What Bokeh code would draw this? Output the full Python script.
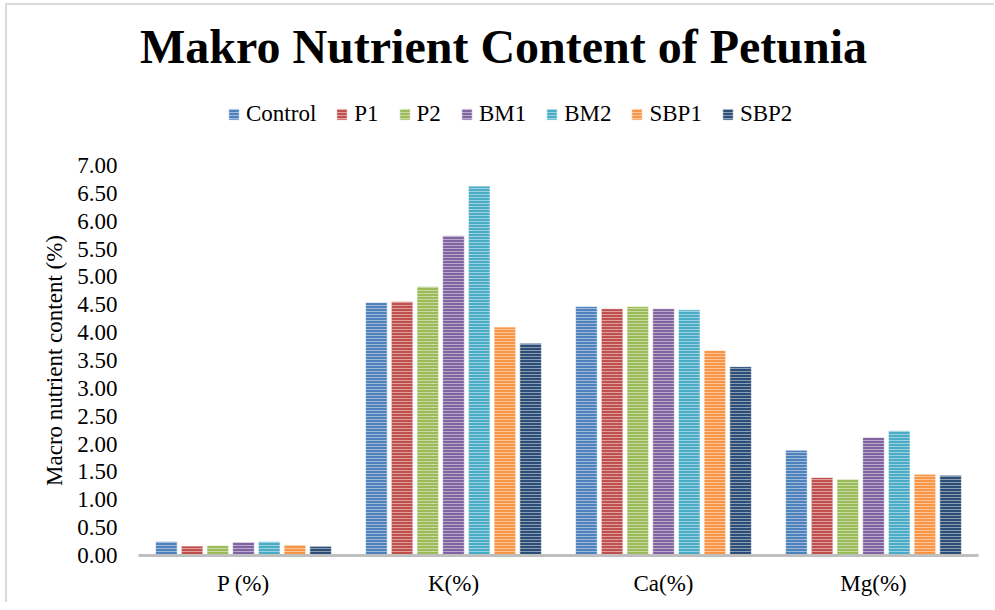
from bokeh.plotting import figure
from bokeh.layouts import column
from bokeh.models import (FactorRange, Range1d, Legend, LegendItem, FixedTicker,
                          NumeralTickFormatter, ColumnDataSource, Label)
from bokeh.transform import dodge
from bokeh.embed import file_html
from bokeh.resources import INLINE

categories = ["P (%)", "K(%)", "Ca(%)", "Mg(%)"]
series = ["Control", "P1", "P2", "BM1", "BM2", "SBP1", "SBP2"]
control = [0.25, 4.54, 4.47, 1.89]
p1 = [0.17, 4.56, 4.43, 1.40]
p2 = [0.18, 4.83, 4.47, 1.37]
bm1 = [0.24, 5.74, 4.43, 2.12]
bm2 = [0.25, 6.63, 4.41, 2.24]
sbp1 = [0.19, 4.10, 3.68, 1.46]
sbp2 = [0.165, 3.81, 3.39, 1.44]
values = [control, p1, p2, bm1, bm2, sbp1, sbp2]
colors = ["#4F81BD", "#C0504D", "#9BBB59", "#8064A2", "#4BACC6", "#F79646", "#2C4D75"]
y_ticks = [0, 0.5, 1, 1.5, 2, 2.5, 3, 3.5, 4, 4.5, 5, 5.5, 6, 6.5, 7]
title_text = "Makro Nutrient Content of Petunia"

FONT = "Liberation Serif"
W = 987
TOP_H = 145
MAIN_H = 452

bar_style = dict(line_color="white", line_width=1, line_alpha=0.6,
                 hatch_pattern="horizontal_line", hatch_color="white",
                 hatch_alpha=0.45, hatch_scale=3, hatch_weight=1)

# ---- header figure: title + legend ----
top = figure(width=W, height=TOP_H, x_range=Range1d(0, 1), y_range=Range1d(0, 1),
             output_backend="svg", toolbar_location=None,
             x_axis_type=None, y_axis_type=None, min_border=0)
top.xgrid.visible = False
top.ygrid.visible = False
top.outline_line_color = None

top.add_layout(Label(x=365, y=104, x_units="screen", y_units="screen",
                     text=title_text, text_align="center",
                     text_baseline="alphabetic", text_font=FONT,
                     text_font_size="48px", text_font_style="bold",
                     text_color="black"))

# ---- main chart ----
p = figure(x_range=FactorRange(factors=categories, range_padding=0),
           y_range=Range1d(0, 7),
           width=W, height=MAIN_H, output_backend="svg", toolbar_location=None,
           min_border_left=131, min_border_right=16, min_border_top=15,
           min_border_bottom=47)

data = {"cat": categories}
for name, vals in zip(series, values):
    data[name] = vals
src = ColumnDataSource(data)

n = len(series)
step = 0.1224
items = []
for i, (name, col) in enumerate(zip(series, colors)):
    off = (i - (n - 1) / 2) * step
    p.vbar(x=dodge("cat", off, range=p.x_range), top=name, width=0.103,
           source=src, fill_color=col, **bar_style)
    # swatch-only renderer for the header legend (lies outside the header's view)
    dummy = top.vbar(x=[-5], top=[-5], width=0.01, bottom=-6, fill_color=col, **bar_style)
    items.append(LegendItem(label=name, renderers=[dummy]))

legend = Legend(items=items, orientation="horizontal", location=(89, 23),
                label_text_font=FONT, label_text_font_size="23px",
                label_text_color="black",
                glyph_width=13, glyph_height=14, label_standoff=6, spacing=19,
                padding=0, margin=0, border_line_alpha=0,
                background_fill_alpha=0)
top.add_layout(legend)

p.xgrid.visible = False
p.ygrid.visible = False
p.outline_line_color = None

p.xaxis.axis_line_color = "#BFBFBF"
p.xaxis.axis_line_width = 3
p.xaxis.major_tick_line_color = None
p.xaxis.minor_tick_line_color = None
p.xaxis.major_label_text_font = FONT
p.xaxis.major_label_text_font_size = "23px"
p.xaxis.major_label_text_color = "black"
p.xaxis.major_label_standoff = 9

p.yaxis.ticker = FixedTicker(ticks=y_ticks)
p.yaxis.formatter = NumeralTickFormatter(format="0.00")
p.yaxis.axis_line_color = None
p.yaxis.major_tick_line_color = None
p.yaxis.minor_tick_line_color = None
p.yaxis.major_label_text_font = FONT
p.yaxis.major_label_text_font_size = "23px"
p.yaxis.major_label_text_color = "black"
p.yaxis.major_label_standoff = 15
p.yaxis.axis_label = "Macro nutrient content (%)"
p.yaxis.axis_label_text_font = FONT
p.yaxis.axis_label_text_font_size = "23px"
p.yaxis.axis_label_text_font_style = "normal"
p.yaxis.axis_label_text_color = "black"
p.yaxis.axis_label_standoff = 7

layout = column(top, p, spacing=0, width=W + 2, height=TOP_H + MAIN_H + 2)
layout.styles = {"border-top": "2px solid #D9D9D9", "border-left": "2px solid #D9D9D9",
                 "border-right": "0px none", "border-bottom": "0px none",
                 "margin": "3px 0 0 5px", "box-sizing": "border-box"}
open("out.html", "w").write(file_html(layout, INLINE))
